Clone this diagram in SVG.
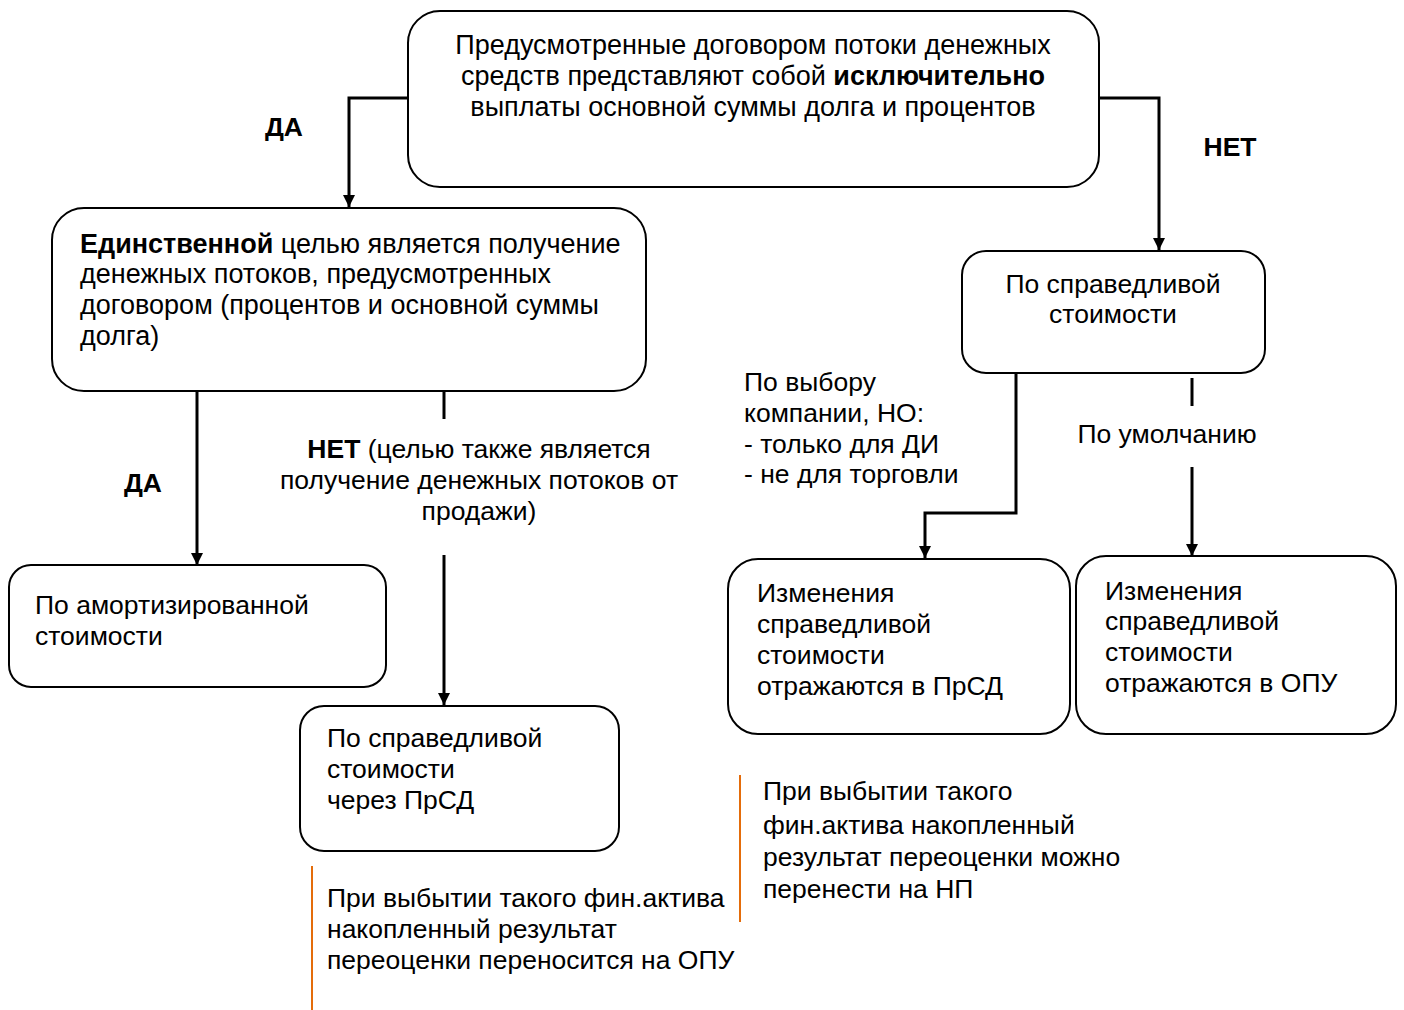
<svg xmlns="http://www.w3.org/2000/svg" width="1404" height="1010" viewBox="0 0 1404 1010">
<defs>
<style>
.box{fill:#fff;stroke:#000;stroke-width:2}
.t{font-family:"Liberation Sans",Arial,sans-serif;font-size:26.5px;fill:#000}
.b{font-weight:bold}
.c{text-anchor:middle}
.ln{fill:none;stroke:#000;stroke-width:3}
.or{stroke:#E46C0A;stroke-width:2}
</style>
<marker id="ah" viewBox="0 0 10 10" refX="10" refY="5" markerWidth="4" markerHeight="4" markerUnits="strokeWidth" orient="auto">
<path d="M0,0 L10,5 L0,10 z" fill="#000"/>
</marker>
</defs>
<rect width="1404" height="1010" fill="#fff"/>

<g id="connectors">
<polyline class="ln" points="408,98 349,98 349,207" marker-end="url(#ah)"/>
<polyline class="ln" points="1099,98 1159,98 1159,250" marker-end="url(#ah)"/>
<polyline class="ln" points="197,391 197,565" marker-end="url(#ah)"/>
<line class="ln" x1="444" y1="391" x2="444" y2="419"/>
<polyline class="ln" points="444,555 444,705" marker-end="url(#ah)"/>
<polyline class="ln" points="1016,373 1016,513 925,513 925,558" marker-end="url(#ah)"/>
<line class="ln" x1="1192" y1="378" x2="1192" y2="406"/>
<polyline class="ln" points="1192,467 1192,556" marker-end="url(#ah)"/>
<text class="t b" x="284" y="136" text-anchor="middle">ДА</text>
<text class="t b" x="1230" y="156" text-anchor="middle">НЕТ</text>
<text class="t b" x="143" y="492" text-anchor="middle">ДА</text>
<text class="t c" x="479" y="458"><tspan class="b">НЕТ</tspan> (целью также является</text>
<text class="t c" x="479" y="489">получение денежных потоков от</text>
<text class="t c" x="479" y="520">продажи)</text>
<text class="t" x="744" y="391">По выбору</text>
<text class="t" x="744" y="422">компании, НО:</text>
<text class="t" x="744" y="453">- только для ДИ</text>
<text class="t" x="744" y="483">- не для торговли</text>
<text class="t c" x="1167" y="443">По умолчанию</text>
</g>

<g id="n-top">
<rect class="box" x="408" y="11" width="691" height="176" rx="32"/>
<text class="t c" x="753" y="54" style="font-size:27px">Предусмотренные договором потоки денежных</text>
<text class="t c" x="753" y="85" style="font-size:27px">средств представляют собой <tspan class="b">исключительно</tspan></text>
<text class="t c" x="753" y="116" style="font-size:27px">выплаты основной суммы долга и процентов</text>
</g>

<g id="n-goal">
<rect class="box" x="52" y="208" width="594" height="183" rx="32"/>
<text class="t" x="80" y="253" style="font-size:27px"><tspan class="b">Единственной</tspan> целью является получение</text>
<text class="t" x="80" y="283" style="font-size:27px">денежных потоков, предусмотренных</text>
<text class="t" x="80" y="314" style="font-size:27px">договором (процентов и основной суммы</text>
<text class="t" x="80" y="345" style="font-size:27px">долга)</text>
</g>

<g id="n-fv">
<rect class="box" x="962" y="251" width="303" height="122" rx="24"/>
<text class="t c" x="1113" y="293">По справедливой</text>
<text class="t c" x="1113" y="323">стоимости</text>
</g>

<g id="n-amort">
<rect class="box" x="9" y="565" width="377" height="122" rx="22"/>
<text class="t" x="35" y="614">По амортизированной</text>
<text class="t" x="35" y="645">стоимости</text>
</g>

<g id="n-fvoci">
<rect class="box" x="300" y="706" width="319" height="145" rx="24"/>
<text class="t" x="327" y="747">По справедливой</text>
<text class="t" x="327" y="778">стоимости</text>
<text class="t" x="327" y="809">через ПрСД</text>
</g>

<g id="n-oci">
<rect class="box" x="728" y="559" width="342" height="175" rx="30"/>
<text class="t" x="757" y="602">Изменения</text>
<text class="t" x="757" y="633">справедливой</text>
<text class="t" x="757" y="664">стоимости</text>
<text class="t" x="757" y="695">отражаются в ПрСД</text>
</g>

<g id="n-pl">
<rect class="box" x="1076" y="556" width="320" height="178" rx="30"/>
<text class="t" x="1105" y="600">Изменения</text>
<text class="t" x="1105" y="630">справедливой</text>
<text class="t" x="1105" y="661">стоимости</text>
<text class="t" x="1105" y="692">отражаются в ОПУ</text>
</g>

<g id="note-opu">
<line class="or" x1="312" y1="866" x2="312" y2="1010"/>
<text class="t" x="327" y="907">При выбытии такого фин.актива</text>
<text class="t" x="327" y="938">накопленный результат</text>
<text class="t" x="327" y="969">переоценки переносится на ОПУ</text>
</g>

<g id="note-np">
<line class="or" x1="740" y1="775" x2="740" y2="922"/>
<text class="t" x="763" y="800">При выбытии такого</text>
<text class="t" x="763" y="834">фин.актива накопленный</text>
<text class="t" x="763" y="866">результат переоценки можно</text>
<text class="t" x="763" y="898">перенести на НП</text>
</g>
</svg>
